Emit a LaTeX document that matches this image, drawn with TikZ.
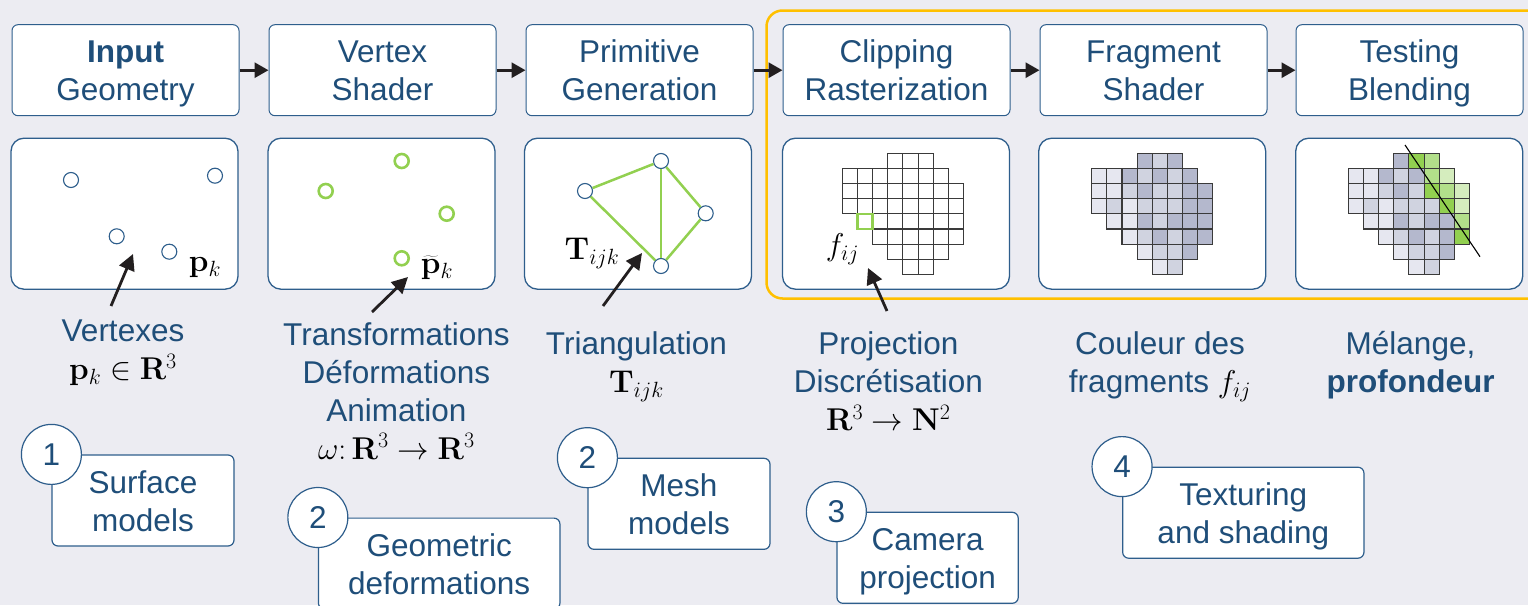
\RequirePackage{fix-cm}
\documentclass[tikz,border=0pt]{standalone}
\usepackage[no-math]{fontspec}
\setmainfont{Liberation Sans}
\usetikzlibrary{arrows.meta}
\definecolor{bgc}{HTML}{ECECF2}
\definecolor{txtc}{HTML}{1F4E79}
\definecolor{bordc}{HTML}{2E5E8C}
\definecolor{orc}{HTML}{FFC000}
\definecolor{grc}{HTML}{92D050}
\definecolor{arrc}{HTML}{231F20}
\definecolor{gridc}{HTML}{3A3A3A}
\definecolor{cL}{HTML}{E6E7F0}
\definecolor{cM}{HTML}{D0D3E0}
\definecolor{cD}{HTML}{B4B8CD}
\definecolor{gB}{HTML}{92D050}
\definecolor{gM}{HTML}{B2DF8A}
\definecolor{gL}{HTML}{D5EDBE}
\definecolor{cW}{HTML}{FFFFFF}
\newcommand{\bigfont}{\fontsize{31.5}{38}\selectfont}
\newcommand{\tp}{\rule{0pt}{35pt}}
\newcommand{\bt}{\rule[-12pt]{0pt}{12pt}}
\newcommand{\gridrow}[4]{%
  \foreach \cc [count=\ii from 0] in {#4} {%
    \draw[cell, fill=\cc] ({#1+(#3+\ii)*15.15},{153.2+#2*15.15}) rectangle ++(15.15,15.15);
  }}
\begin{document}
\begin{tikzpicture}[x=1pt,y=-1pt,
  topbox/.style={draw=bordc, fill=white, rounded corners=6pt, line width=1pt,
    minimum width=227pt, minimum height=91pt, align=center, font=\bigfont, text=txtc, inner sep=0pt},
  panel/.style={draw=bordc, fill=white, rounded corners=13pt, line width=1.3pt,
    minimum width=227pt, minimum height=151pt, inner sep=0pt},
  sbox/.style={draw=bordc, fill=white, rounded corners=6pt, line width=1.2pt,
    minimum height=91pt, align=center, font=\bigfont, text=txtc, inner sep=0pt},
  numc/.style={circle, draw=bordc, fill=white, line width=1.2pt, minimum size=60pt,
    inner sep=0pt, font=\bigfont, text=txtc},
  lbl/.style={align=center, font=\bigfont, text=txtc, inner sep=0pt},
  mlbl/.style={font=\bigfont, inner sep=0pt, text=black},
  vtx/.style={circle, draw=bordc, fill=white, line width=1.1pt, minimum size=15pt, inner sep=0pt},
  gvtx/.style={circle, draw=grc, fill=white, line width=2.6pt, minimum size=14pt, inner sep=0pt},
  gedge/.style={draw=grc, line width=2.5pt},
  cell/.style={draw=gridc, line width=1.1pt},
  tarr/.style={draw=arrc, line width=3pt, -{Triangle[length=14pt,width=15pt]}},
  parr/.style={draw=arrc, line width=2.8pt, -{Triangle[length=16pt,width=16pt]}}
]
\useasboundingbox (0,0) rectangle (1528,605);
\fill[bgc] (0,0) rectangle (1528,605);

% orange frame
\draw[orc, line width=2.5pt, rounded corners=16pt] (766.5,10.5) rectangle (1545,298.5);

% top boxes
\node[topbox] (B1) at (125.5,70.2) {\tp\textbf{Input}\\Geometry\bt};
\node[topbox] (B2) at (382.5,70.2) {\tp Vertex\\Shader\bt};
\node[topbox] (B3) at (639.5,70.2) {\tp Primitive\\Generation\bt};
\node[topbox] (B4) at (896.5,70.2) {\tp Clipping\\Rasterization\bt};
\node[topbox] (B5) at (1153.5,70.2) {\tp Fragment\\Shader\bt};
\node[topbox] (B6) at (1409.5,70.2) {\tp Testing\\Blending\bt};
\draw[tarr] (B1.east) -- (B2.west);
\draw[tarr] (B2.east) -- (B3.west);
\draw[tarr] (B3.east) -- (B4.west);
\draw[tarr] (B4.east) -- (B5.west);
\draw[tarr] (B5.east) -- (B6.west);

% panels
\node[panel] (P1) at (124.5,213.7) {};
\node[panel] (P2) at (381.5,213.7) {};
\node[panel] (P3) at (638,213.7) {};
\node[panel] (P4) at (896,213.7) {};
\node[panel] (P5) at (1152.2,213.7) {};
\node[panel] (P6) at (1409.2,213.7) {};

% panel 1: vertices
\node[vtx] (v1) at (71,180) {};
\node[vtx] (v2) at (215,175.7) {};
\node[vtx] (v3) at (116.7,236.3) {};
\node[vtx] (v4) at (169.3,251.7) {};
\node[mlbl] (pk) at (205,268) {$\mathbf{p}_k$};

% panel 2: transformed vertices
\node[gvtx] (w1) at (401.7,161) {};
\node[gvtx] (w2) at (325.7,191) {};
\node[gvtx] (w3) at (446.7,213.7) {};
\node[gvtx] (w4) at (401.7,258.3) {};
\node[mlbl] (tpk) at (437,268) {$\widetilde{\mathbf{p}}_k$};

% panel 3: triangulation
\node[vtx] (t1) at (585,191) {};
\node[vtx] (t2) at (661,161) {};
\node[vtx] (t3) at (705.7,213.3) {};
\node[vtx] (t4) at (661,266) {};
\draw[gedge] (t1) -- (t2);
\draw[gedge] (t2) -- (t4);
\draw[gedge] (t2) -- (t3);
\draw[gedge] (t3) -- (t4);
\draw[gedge] (t1) -- (t4);
\node[mlbl] (tijk) at (592,253) {$\mathbf{T}_{ijk}$};

% panel 4: rasterization grid
\gridrow{842.3}{0}{3}{cW,cW,cW}
\gridrow{842.3}{1}{0}{cW,cW,cW,cW,cW,cW,cW}
\gridrow{842.3}{2}{0}{cW,cW,cW,cW,cW,cW,cW,cW}
\gridrow{842.3}{3}{0}{cW,cW,cW,cW,cW,cW,cW,cW}
\gridrow{842.3}{4}{2}{cW,cW,cW,cW,cW,cW}
\gridrow{842.3}{5}{2}{cW,cW,cW,cW,cW,cW}
\gridrow{842.3}{6}{3}{cW,cW,cW,cW}
\gridrow{842.3}{7}{4}{cW,cW}
\draw[grc, line width=2.3pt] ({842.3+15.15},{153.2+4*15.15}) rectangle ++(15.15,15.15);
\node[mlbl] (fij) at (842.5,249) {$f_{ij}$};

% panel 5: fragment shading
\gridrow{1091.7}{0}{3}{cD,cM,cD}
\gridrow{1091.7}{1}{0}{cL,cL,cD,cM,cD,cM,cD}
\gridrow{1091.7}{2}{0}{cL,cL,cM,cD,cM,cM,cD,cD}
\gridrow{1091.7}{3}{0}{cL,cM,cL,cM,cM,cM,cD,cD}
\gridrow{1091.7}{4}{1}{cL,cL,cD,cM,cD,cD,cD}
\gridrow{1091.7}{5}{2}{cL,cM,cD,cM,cD,cD}
\gridrow{1091.7}{6}{3}{cL,cM,cM,cD}
\gridrow{1091.7}{7}{4}{cL,cM}

% panel 6: testing / blending
\gridrow{1348.3}{0}{3}{cD,gB,gM}
\gridrow{1348.3}{1}{0}{cL,cL,cD,cM,cD,gM,gL}
\gridrow{1348.3}{2}{0}{cL,cL,cM,cD,cM,gB,gM,gL}
\gridrow{1348.3}{3}{0}{cL,cM,cL,cM,cM,cM,gB,gL}
\gridrow{1348.3}{4}{1}{cL,cL,cD,cM,cD,cD,gM}
\gridrow{1348.3}{5}{2}{cL,cM,cD,cM,cD,gB}
\gridrow{1348.3}{6}{3}{cL,cM,cM,cD}
\gridrow{1348.3}{7}{4}{cL,cM}
\coordinate (ls) at (1405,145);
\coordinate (le) at (1480,256.7);
\draw[black, line width=1.1pt] (ls) -- (le);

% pointer arrows
\coordinate (a1t) at (111,306);  \coordinate (a1h) at (133,254);
\coordinate (a2t) at (372,312);  \coordinate (a2h) at (408,277);
\coordinate (a3t) at (603,306);  \coordinate (a3h) at (642,253);
\coordinate (a4t) at (887,311);  \coordinate (a4h) at (868,268);
\draw[parr] (a1t) -- (a1h);
\draw[parr] (a2t) -- (a2h);
\draw[parr] (a3t) -- (a3h);
\draw[parr] (a4t) -- (a4h);

% descriptive labels
\node[lbl] (L1) at (123,349.2) {\tp Vertexes\\ {\color{black}$\mathbf{p}_k \in \mathbf{R}^3$}\bt};
\node[lbl] (L2) at (396.4,390.5) {\tp Transformations\\D\'eformations\\Animation\\ {\color{black}$\omega\colon \mathbf{R}^3 \rightarrow \mathbf{R}^3$}\bt};
\node[lbl] (L3) at (636.4,362) {\tp Triangulation\\ {\color{black}$\mathbf{T}_{ijk}$}\bt};
\node[lbl] (L4) at (888.3,381) {\tp Projection\\Discr\'etisation\\ {\color{black}$\mathbf{R}^3 \rightarrow \mathbf{N}^2$}\bt};
\node[lbl] (L5) at (1160,362) {\tp Couleur des\\fragments {\color{black}$f_{ij}$}\bt};
\node[lbl] (L6) at (1410.5,362) {\tp M\'elange,\\\textbf{profondeur}\bt};

% numbered category boxes
\node[sbox, minimum width=182pt] (S1) at (143,500.5) {\tp Surface\\models\bt};
\node[sbox, minimum width=241.5pt] (S2) at (439.2,563.6) {\tp Geometric\\deformations\bt};
\node[sbox, minimum width=182pt] (S3) at (679,503.8) {\tp Mesh\\models\bt};
\node[sbox, minimum width=181.3pt] (S4) at (927.6,557.8) {\tp Camera\\projection\bt};
\node[sbox, minimum width=241.3pt] (S5) at (1243.3,512.7) {\tp Texturing\\and shading\bt};
\node[numc] (N1) at (S1.north west) {1};
\node[numc] (N2) at (S2.north west) {2};
\node[numc] (N3) at (S3.north west) {2};
\node[numc] (N4) at (S4.north west) {3};
\node[numc] (N5) at (S5.north west) {4};
\end{tikzpicture}
\end{document}
